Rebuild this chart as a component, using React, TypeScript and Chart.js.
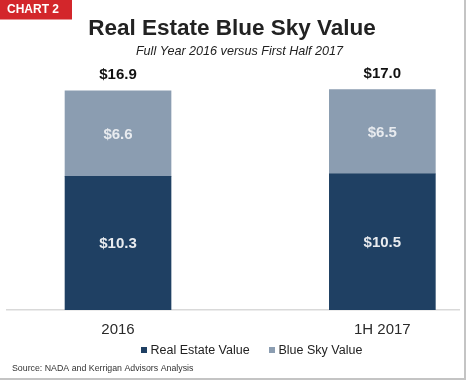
import React, { useEffect, useRef } from "react";
import { Chart, registerables } from "chart.js";

Chart.register(...registerables);

const categories = ["2016", "1H 2017"];
const realEstateValues = [10.3, 10.5];
const blueSkyValues = [6.6, 6.5];
const seriesNames = ["Real Estate Value", "Blue Sky Value"];
const seriesColors = ["#1f4063", "#8b9db1"];

const FONT = "'Liberation Sans', Arial, sans-serif";

const decorPlugin = {
  id: "decor",
  afterDatasetsDraw(chart: any) {
    const ctx = chart.ctx;
    ctx.save();
    chart.data.datasets.forEach((ds: any, di: number) => {
      const meta = chart.getDatasetMeta(di);
      meta.data.forEach((bar: any, i: number) => {
        const v = ds.data[i].y;
        const mid = (bar.y + bar.base) / 2;
        ctx.font = `bold 15px ${FONT}`;
        ctx.fillStyle = "#e8ebef";
        ctx.textAlign = "center";
        ctx.textBaseline = "middle";
        ctx.fillText("$" + v.toFixed(1), bar.x, mid + 1);
      });
    });
    const lastMeta = chart.getDatasetMeta(chart.data.datasets.length - 1);
    lastMeta.data.forEach((bar: any, i: number) => {
      const total = realEstateValues[i] + blueSkyValues[i];
      ctx.font = `bold 15px ${FONT}`;
      ctx.fillStyle = "#111111";
      ctx.textAlign = "center";
      ctx.textBaseline = "middle";
      ctx.fillText("$" + total.toFixed(1), bar.x, bar.y - 16);
    });
    ctx.restore();
  },
  afterDraw(chart: any) {
    const ctx = chart.ctx;
    ctx.save();
    ctx.fillStyle = "#d3262b";
    ctx.fillRect(0, 0, 72, 19.5);
    ctx.fillStyle = "#ffffff";
    ctx.font = `bold 12px ${FONT}`;
    ctx.textAlign = "left";
    ctx.textBaseline = "middle";
    ctx.fillText("CHART 2", 7, 10);
    ctx.fillStyle = "#222222";
    ctx.font = `bold 22.5px ${FONT}`;
    ctx.textAlign = "center";
    ctx.fillText("Real Estate Blue Sky Value", 232, 29);
    ctx.font = `italic 12.6px ${FONT}`;
    ctx.fillStyle = "#222222";
    ctx.fillText("Full Year 2016 versus First Half 2017", 239.5, 51);
    const legendX = [141, 269];
    ctx.font = `12.5px ${FONT}`;
    ctx.textAlign = "left";
    seriesNames.forEach((name, i) => {
      ctx.fillStyle = seriesColors[i];
      ctx.fillRect(legendX[i], 347, 6, 6);
      ctx.fillStyle = "#222222";
      ctx.fillText(name, legendX[i] + 9.5, 350.5);
    });
    ctx.font = `8.8px ${FONT}`;
    ctx.fillStyle = "#333333";
    ctx.fillText("Source: NADA and Kerrigan Advisors Analysis", 12, 369);
    ctx.strokeStyle = "#c4c4c4";
    ctx.lineWidth = 2;
    ctx.beginPath();
    ctx.moveTo(465, 0);
    ctx.lineTo(465, 379);
    ctx.moveTo(0, 379);
    ctx.lineTo(466, 379);
    ctx.stroke();
    ctx.restore();
  },
};

export default function App() {
  const canvasRef = useRef<HTMLCanvasElement | null>(null);

  useEffect(() => {
    document.body.style.margin = "0";
    const canvas = canvasRef.current;
    if (!canvas) return;
    const chart = new Chart(canvas, {
      type: "bar",
      data: {
        datasets: [
          {
            label: seriesNames[0],
            data: realEstateValues.map((y, i) => ({ x: i, y })),
            backgroundColor: seriesColors[0],
            barThickness: 106,
          },
          {
            label: seriesNames[1],
            data: blueSkyValues.map((y, i) => ({ x: i, y })),
            backgroundColor: seriesColors[1],
            barThickness: 106,
          },
        ],
      },
      options: {
        animation: false,
        responsive: false,
        layout: { padding: { left: 7, right: 7, top: 76.6, bottom: 30 } },
        plugins: {
          legend: { display: false },
          title: { display: false },
          tooltip: { enabled: false },
        },
        scales: {
          x: {
            type: "linear",
            stacked: true,
            offset: false,
            min: -0.42,
            max: 1.29,
            afterBuildTicks: (scale: any) => {
              scale.ticks = categories.map((_, i) => ({ value: i }));
            },
            ticks: {
              callback: (v: any) => categories[Math.round(Number(v))] ?? "",
              font: { family: FONT, size: 15 },
              color: "#2a2a2a",
              padding: 11,
              autoSkip: false,
              maxRotation: 0,
            },
            grid: { display: false, drawTicks: false, offset: false },
            border: { display: true, color: "#d9d9d9", width: 1.5 },
          },
          y: {
            display: false,
            stacked: true,
            min: 0,
            max: 18,
          },
        },
      },
      plugins: [decorPlugin],
    } as any);
    return () => chart.destroy();
  }, []);

  return (
    <div style={{ position: "absolute", left: 0, top: 0, width: 466, height: 380, background: "#ffffff" }}>
      <canvas ref={canvasRef} width={466} height={380} style={{ width: 466, height: 380 }} />
    </div>
  );
}
